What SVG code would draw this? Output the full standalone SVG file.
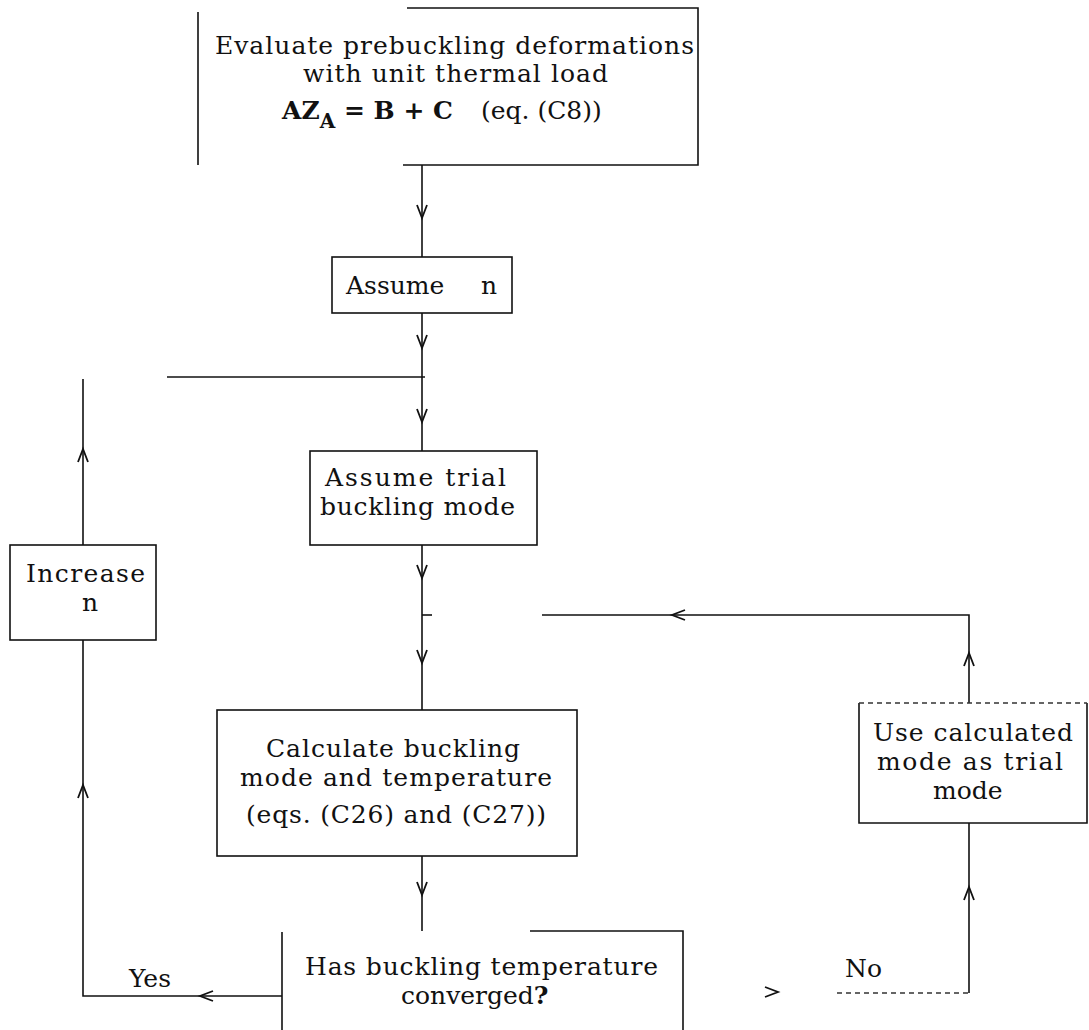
<svg xmlns="http://www.w3.org/2000/svg" xmlns:xlink="http://www.w3.org/1999/xlink" width="1089" height="1030" viewBox="0 0 1089 1030">
<style>
  .bx{fill:none;stroke:#111;stroke-width:1.6}
  .ln{fill:none;stroke:#111;stroke-width:1.6}
  .dot{fill:none;stroke:#333;stroke-width:1.4;stroke-dasharray:5 4}
  .ah{fill:none;stroke:#111;stroke-width:1.8;stroke-linejoin:miter}
  .t{font-family:"DejaVu Serif","Liberation Serif",serif;font-size:25px;fill:#111}
  .b{font-weight:bold}
</style>
<defs>
  <path id="ad" class="ah" d="M-5,-13 L0,0 L5,-13"/>
</defs>

<g id="connectors">
  <path class="ln" d="M422,165 V257"/>
  <path class="ln" d="M422,313 V451"/>
  <path class="ln" d="M167,377 H425"/>
  <path class="ln" d="M422,545 V710"/>
  <path class="ln" d="M422,615 H432"/>
  <path class="ln" d="M542,615 H969 V703"/>
  <path class="ln" d="M969,823 V993"/>
  <path class="dot" d="M837,993 H969"/>
  <path class="ln" d="M422,856 V931"/>
  <path class="ln" d="M282,996 H83 V640"/>
  <path class="ln" d="M83,545 V379"/>
  <use xlink:href="#ad" transform="translate(422,218)"/>
  <use xlink:href="#ad" transform="translate(422,348)"/>
  <use xlink:href="#ad" transform="translate(422,422)"/>
  <use xlink:href="#ad" transform="translate(422,578)"/>
  <use xlink:href="#ad" transform="translate(422,663)"/>
  <use xlink:href="#ad" transform="translate(422,895)"/>
  <use xlink:href="#ad" transform="translate(83,449) rotate(180)"/>
  <use xlink:href="#ad" transform="translate(83,785) rotate(180)"/>
  <use xlink:href="#ad" transform="translate(200,996) rotate(90)"/>
  <use xlink:href="#ad" transform="translate(672,615) rotate(90)"/>
  <use xlink:href="#ad" transform="translate(969,653) rotate(180)"/>
  <use xlink:href="#ad" transform="translate(969,887) rotate(180)"/>
  <use xlink:href="#ad" transform="translate(778,992) rotate(-90)"/>
  <text class="t" x="129" y="987">Yes</text>
  <text class="t" x="845" y="977">No</text>
</g>

<g id="node-evaluate">
  <path class="bx" d="M198,12 V165 M407,8 H698 V165 H403"/>
  <text class="t" x="215" y="54" textLength="479">Evaluate prebuckling deformations</text>
  <text class="t" x="303" y="82" textLength="305">with unit thermal load</text>
  <text class="t" x="282" y="119"><tspan class="b">AZ</tspan><tspan class="b" dy="9" font-size="20">A</tspan><tspan class="b" dy="-9"> = B + C</tspan><tspan x="481">(eq. (C8))</tspan></text>
</g>

<g id="node-assume-n">
  <rect class="bx" x="332" y="257" width="180" height="56"/>
  <text class="t"><tspan x="346" y="294">Assume</tspan><tspan x="481" y="294">n</tspan></text>
</g>

<g id="node-increase-n">
  <rect class="bx" x="10" y="545" width="146" height="95"/>
  <text class="t" x="26" y="582" textLength="119">Increase</text>
  <text class="t" x="82" y="611">n</text>
</g>

<g id="node-trial-mode">
  <rect class="bx" x="310" y="451" width="227" height="94"/>
  <text class="t" x="325" y="486" textLength="181">Assume trial</text>
  <text class="t" x="320" y="515" textLength="195">buckling mode</text>
</g>

<g id="node-calculate">
  <rect class="bx" x="217" y="710" width="360" height="146"/>
  <text class="t" x="266" y="757" textLength="254">Calculate buckling</text>
  <text class="t" x="240" y="786" textLength="312">mode and temperature</text>
  <text class="t" x="246" y="823" textLength="300">(eqs. (C26) and (C27))</text>
</g>

<g id="node-use-calculated">
  <path class="bx" d="M859,703 V823 H1087 V703"/>
  <path class="dot" d="M859,703 H1087"/>
  <text class="t" x="873" y="741" textLength="200">Use calculated</text>
  <text class="t" x="877" y="770" textLength="186">mode as trial</text>
  <text class="t" x="933" y="799">mode</text>
</g>

<g id="node-converged">
  <path class="bx" d="M282,1030 V932 M530,931 H683 V1030"/>
  <text class="t" x="305" y="975" textLength="353">Has buckling temperature</text>
  <text class="t" x="401" y="1004">converged<tspan class="b">?</tspan></text>
</g>
</svg>
